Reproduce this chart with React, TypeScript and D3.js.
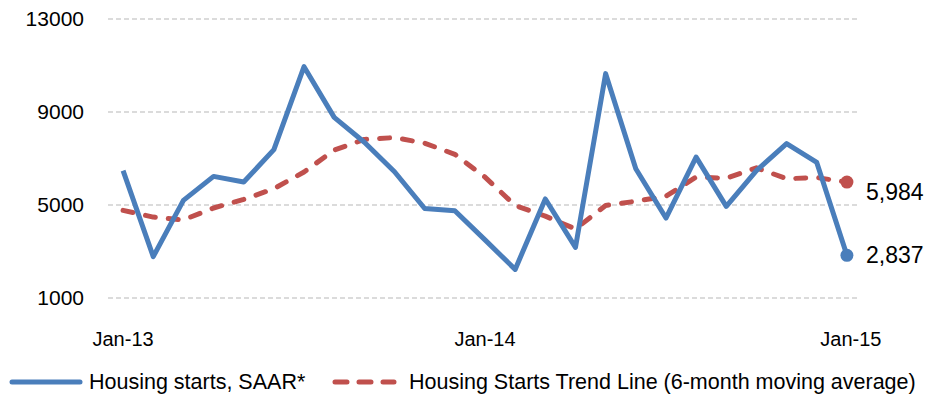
import React from 'react';
import * as d3 from 'd3';

const months = [
  'Jan-13', 'Feb-13', 'Mar-13', 'Apr-13', 'May-13', 'Jun-13', 'Jul-13', 'Aug-13', 'Sep-13', 'Oct-13', 'Nov-13', 'Dec-13',
  'Jan-14', 'Feb-14', 'Mar-14', 'Apr-14', 'May-14', 'Jun-14', 'Jul-14', 'Aug-14', 'Sep-14', 'Oct-14', 'Nov-14', 'Dec-14',
  'Jan-15',
];
const starts = [
  6480, 2780, 5200, 6230, 5990, 7380, 10950, 8770, 7700, 6430, 4850, 4750,
  3500, 2230, 5260, 3180, 10650, 6560, 4440, 7060, 4940, 6480, 7640, 6830,
  2837,
];
const trend = [
  4770, 4480, 4360, 4870, 5240, 5700, 6420, 7360, 7820, 7900, 7660, 7180,
  6200, 4980, 4520, 3970, 4980, 5160, 5380, 6200, 6150, 6600, 6130, 6180,
  5984,
];
const yTicks = [1000, 5000, 9000, 13000];
const xLabels = ['Jan-13', 'Jan-14', 'Jan-15'];
const seriesNames = ['Housing starts, SAAR*', 'Housing Starts Trend Line (6-month moving average)'];

const W = 932, H = 401;
const BLUE = '#4a7ebb';
const RED = '#c0504d';
const FONT = '"Liberation Sans", Arial, sans-serif';

export default function App() {
  const x = d3.scalePoint<string>().domain(months).range([108, 862]).padding(0.5);
  const y = d3.scaleLinear().domain([1000, 13000]).range([298, 19]);

  const line = d3.line<number>()
    .x((_, i) => x(months[i]) as number)
    .y(d => y(d));

  const last = months.length - 1;
  const lx = x(months[last]) as number;
  const fmt = d3.format(',');

  return (
    <div style={{ position: 'absolute', left: 0, top: 0 }}>
      <svg width={W} height={H} style={{ display: 'block', fontFamily: FONT }}>
        <rect width={W} height={H} fill="#fff" />
        {yTicks.map(t => (
          <g key={t}>
            <line x1={108} x2={860} y1={y(t)} y2={y(t)} stroke="#cfcfcf" strokeWidth={1.5} strokeDasharray="5,3" />
            <text x={84} y={y(t)} dy="0.35em" textAnchor="end" fontSize={21} fill="#000">{t}</text>
          </g>
        ))}
        {xLabels.map((l, i) => (
          <text key={l} x={(x(l) as number) + (i === 2 ? 4 : 0)} y={346} textAnchor="middle" fontSize={20} fill="#000">{l}</text>
        ))}
        <path d={line(trend) as string} fill="none" stroke={RED} strokeWidth={5}
          strokeDasharray="10,13" strokeLinecap="round" strokeLinejoin="round" />
        <path d={line(starts) as string} fill="none" stroke={BLUE} strokeWidth={5} strokeLinejoin="round" />
        <circle cx={lx} cy={y(trend[last])} r={6.5} fill={RED} />
        <circle cx={lx} cy={y(starts[last])} r={6.5} fill={BLUE} />
        <text x={866} y={y(trend[last]) + 10} dy="0.35em" fontSize={23} fill="#000">{fmt(trend[last])}</text>
        <text x={866} y={y(starts[last])} dy="0.35em" fontSize={23} fill="#000">{fmt(starts[last])}</text>

        <line x1={12} x2={80} y1={382} y2={382} stroke={BLUE} strokeWidth={5} strokeLinecap="round" />
        <text x={89} y={381} dy="0.35em" fontSize={21.5} fill="#000">{seriesNames[0]}</text>
        <line x1={335} x2={394} y1={382} y2={382} stroke={RED} strokeWidth={5}
          strokeDasharray="12,12" strokeLinecap="round" />
        <text x={409} y={381} dy="0.35em" fontSize={21.5} fill="#000">{seriesNames[1]}</text>
      </svg>
    </div>
  );
}
